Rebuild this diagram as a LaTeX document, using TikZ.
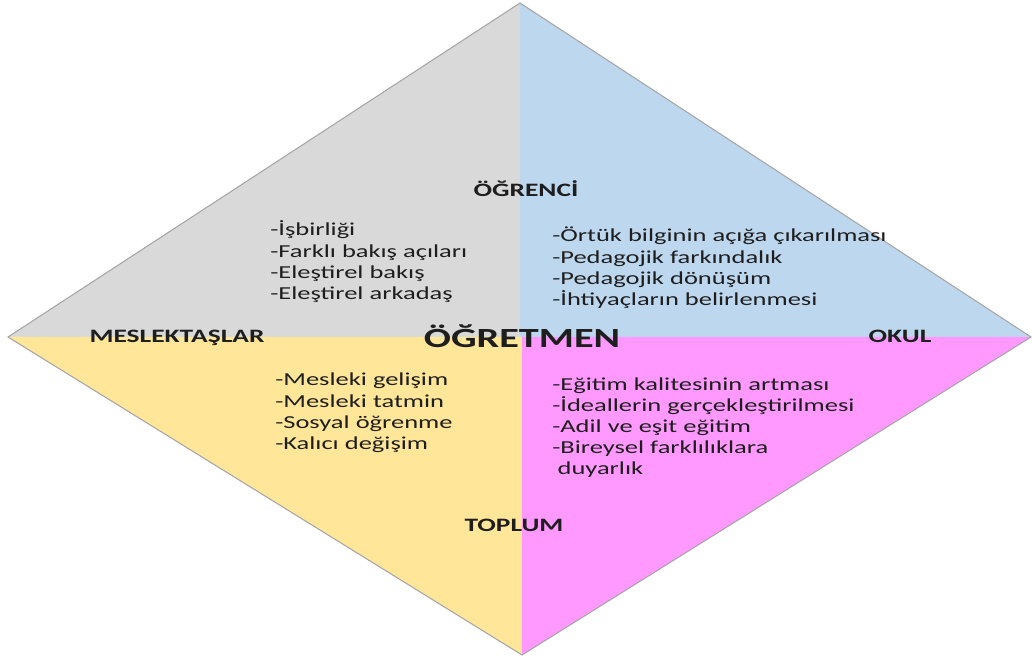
\documentclass[tikz,border=0pt]{standalone}
\usepackage{fontspec}
\setmainfont{Carlito}[FakeStretch=1.45]
\definecolor{grayq}{HTML}{D9D9D9}
\definecolor{blueq}{HTML}{BDD7EE}
\definecolor{yellowq}{HTML}{FFE699}
\definecolor{pinkq}{HTML}{FF99FF}
\definecolor{textdark}{HTML}{1E1E1E}
\begin{document}
\begin{tikzpicture}[x=0.75pt,y=-0.75pt]
        \tikzstyle{heading}=[font=\fontsize{14.2}{16}\selectfont\bfseries,text=textdark,inner sep=0pt,anchor=base]
        \tikzstyle{items}=[font=\fontsize{13.7}{15.9}\selectfont,text=textdark,inner sep=0pt,anchor=base west,align=left,text width=14cm]
        \tikzstyle{rim}=[draw=black!35,line width=0.8pt,line join=miter]
        \useasboundingbox (0,0) rectangle (1032,659);
        % corners of the diamond
        \coordinate (top) at (520,3);
        \coordinate (right) at (1031,337);
        \coordinate (bottom) at (522,655);
        \coordinate (left) at (8,337);
        \coordinate (mid) at (520,337);
        \coordinate (midb) at (522,337);
        \fill[grayq] (left) -- (top) -- (mid) -- cycle;
        \fill[blueq] (top) -- (right) -- (mid) -- cycle;
        \fill[yellowq] (left) -- (midb) -- (bottom) -- cycle;
        \fill[pinkq] (midb) -- (right) -- (bottom) -- cycle;
        \draw[rim] (top) -- (right) -- (bottom) -- (left) -- cycle;
        % headings
        \node [heading] (ogrenci) at (526,197) {ÖĞRENCİ};
        \node [heading] (meslek) at (177,343) {MESLEKTAŞLAR};
        \node [heading] (okul) at (900,343) {OKUL};
        \node [heading] (toplum) at (514,531) {TOPLUM};
        \node [heading,font=\fontsize{20.8}{24}\selectfont\bfseries] (ogretmen) at (522,348) {ÖĞRETMEN};
        % lists
        \node [items] (listtl) at (270,236) {-İşbirliği\\-Farklı bakış açıları\\-Eleştirel bakış\\-Eleştirel arkadaş};
        \node [items] (listtr) at (552,242) {-Örtük bilginin açığa çıkarılması\\-Pedagojik farkındalık\\-Pedagojik dönüşüm\\-İhtiyaçların belirlenmesi};
        \node [items] (listbl) at (275,386) {-Mesleki gelişim\\-Mesleki tatmin\\-Sosyal öğrenme\\-Kalıcı değişim};
        \node [items] (listbr) at (552,390) {-Eğitim kalitesinin artması\\-İdeallerin gerçekleştirilmesi\\-Adil ve eşit eğitim\\-Bireysel farklılıklara\\\hspace*{4pt}duyarlık};
\end{tikzpicture}
\end{document}
